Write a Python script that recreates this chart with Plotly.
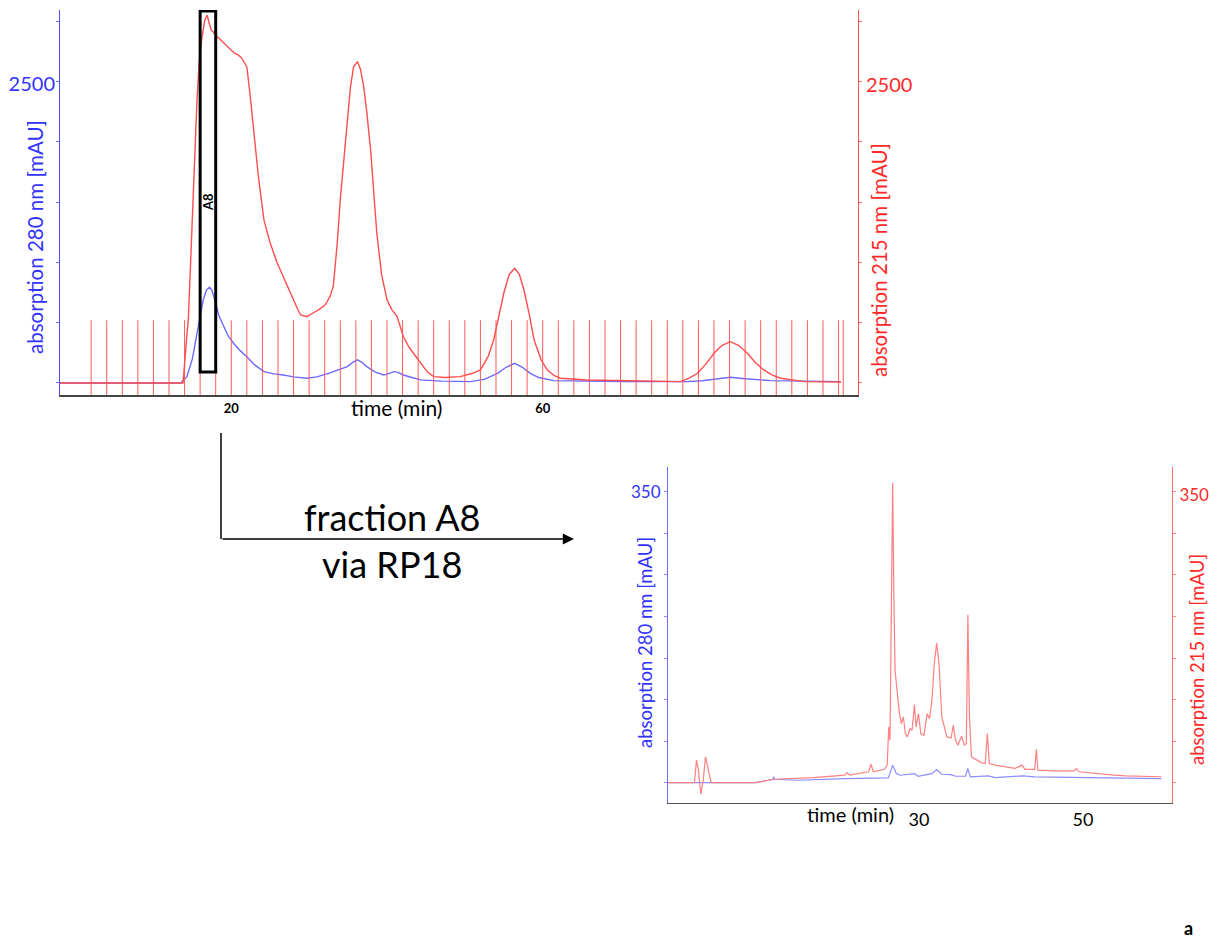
import plotly.graph_objects as go

# ---------------- data: top chart (fractionation) ----------------
top_t_215 = [-2.0, 13.8, 14.5, 14.9, 15.6, 15.9, 16.2, 16.6, 16.9, 17.1, 17.4, 17.7, 18.0, 18.4, 19.0,
             19.4, 20.0, 20.5, 20.9, 21.4, 22.0, 22.4, 22.9, 23.5, 24.2, 25.0, 25.9, 26.8, 27.6, 28.4,
             28.9, 29.7, 30.5, 31.3, 32.1, 32.7, 33.1, 33.6, 34.0, 34.5, 34.9, 35.3, 35.7, 36.2, 36.6,
             37.0, 37.4, 37.9, 38.3, 38.7, 39.3, 40.0, 40.6, 41.3, 42.1, 42.8, 43.4, 44.3, 45.2, 46.0,
             47.5, 49.4, 51.0, 52.0, 53.0, 53.7, 54.4, 55.0, 55.7, 56.4, 57.0, 57.6, 58.3, 58.9, 59.8,
             60.6, 61.5, 62.3, 65.7, 70.0, 77.7, 78.8, 79.9, 81.0, 82.0, 83.0, 84.1, 85.2, 86.3, 87.3,
             88.4, 89.5, 90.6, 93.6, 98.3]
top_a_215 = [0, 0, 550, 1240, 2350, 2680, 2850, 3010, 3050, 3000, 2930, 2910, 2880, 2860, 2820,
             2800, 2760, 2730, 2720, 2690, 2620, 2400, 2070, 1700, 1350, 1160, 995, 860, 746, 630,
             564, 550, 580, 610, 650, 720, 800, 1150, 1520, 1900, 2210, 2450, 2620, 2665, 2600,
             2460, 2250, 1930, 1580, 1240, 900, 690, 610, 550, 385, 300, 246, 163, 90, 52,
             45, 52, 80, 108, 220, 356, 560, 744, 900, 951, 900, 771, 560, 356, 190,
             108, 60, 39, 25, 18, 11, 40, 80, 160, 246, 310, 342, 310, 246, 170,
             108, 65, 39, 11, 8]

top_t_280 = [-2.0, 13.5, 14.3, 15.0, 15.6, 16.4, 16.8, 17.2, 17.5, 17.9, 18.4, 19.0, 19.6, 20.3, 21.1,
             22.0, 23.0, 24.2, 25.5, 26.7, 28.0, 29.7, 31.0, 32.5, 33.6, 34.9, 35.6, 36.2, 36.8, 37.4,
             38.5, 39.6, 40.3, 40.9, 41.5, 42.1, 43.2, 44.3, 47.0, 50.7, 52.5, 53.5, 54.2, 55.3, 56.4,
             57.4, 58.4, 59.5, 61.4, 70.0, 78.6, 80.5, 82.3, 84.1, 86.0, 89.3, 98.3]
top_a_280 = [0, 0, 52, 200, 412, 688, 770, 793, 770, 688, 560, 467, 390, 329, 270,
             218, 150, 94, 75, 66, 50, 39, 50, 80, 108, 135, 170, 191, 170, 135,
             90, 66, 80, 94, 85, 66, 45, 25, 15, 11, 30, 60, 80, 130, 163,
             130, 80, 45, 19, 12, 11, 18, 35, 47, 35, 19, 11]

fraction_marks = [2, 4, 6, 8, 10, 12, 14, 16, 18, 20, 22, 24, 26, 28, 30, 32, 34, 36, 38, 40,
                  42, 44, 46, 48, 50, 52, 54, 56, 58, 60, 62, 64, 66, 68, 70, 72, 74, 76, 78, 80,
                  82, 84, 86, 88, 90, 92, 94, 96, 98, 98.6]
fraction_top = 520
fraction_bottom = -100
selected_fraction = ("A8", 16, 18)

top_y_ticks = [0, 500, 1000, 1500, 2000, 2500, 3000]
top_y_labels = ["", "", "", "", "", "2500", ""]
top_x_ticks = [20, 60]
top_x_labels = ["20", "60"]

# ---------------- data: bottom chart (RP18 of fraction A8) ----------------
bot_t_215 = [-0.61, 2.62, 2.86, 3.10, 3.39, 3.68, 3.97, 4.31, 4.65, 10.10, 12.27, 17.10, 20.96, 21.20,
             21.54, 23.85, 24.14, 24.43, 25.78, 26.12, 26.31, 26.46, 26.65, 26.79, 26.94, 27.08, 27.32,
             27.61, 27.85, 28.09, 28.34, 28.58, 28.91, 29.15, 29.44, 29.64, 29.93, 30.22, 30.60, 30.99,
             31.28, 31.57, 31.86, 32.15, 32.44, 32.78, 33.40, 33.93, 34.17, 34.46, 34.75, 35.19, 35.53,
             35.77, 35.96, 36.15, 36.39, 36.88, 37.60, 38.08, 38.33, 38.57, 39.29, 41.70, 42.57, 42.91,
             44.11, 44.31, 44.50, 46.53, 48.94, 49.18, 49.52, 53.76, 55.21, 59.55]
bot_a_215 = [0, 0, 27, 15, -14, 3, 31, 15, 0, 0, 4, 6, 9, 12,
             9, 13, 22, 13, 16, 21, 67, 51, 200, 361, 220, 135, 111,
             83, 71, 79, 59, 55, 65, 63, 94, 67, 83, 59, 57, 83,
             77, 99, 143, 168, 143, 79, 55, 54, 69, 51, 45, 56, 45,
             47, 202, 79, 31, 28, 24, 23, 59, 23, 21, 17, 21, 16,
             16, 40, 15, 14, 14, 17, 13, 9, 8, 7]

bot_t_280 = [-0.61, 10.10, 12.17, 12.27, 12.40, 15.17, 20.96, 26.26, 26.79, 27.23, 27.71, 29.44, 29.88,
             31.57, 32.15, 32.78, 33.84, 34.46, 35.67, 35.96, 36.25, 38.47, 39.29, 42.67, 44.11, 48.94,
             53.76, 59.55]
bot_a_280 = [0, 0, 3.6, 7, 4, 2.8, 4.8, 5.6, 21, 10.8, 8.8, 10.8, 7.6,
             10.8, 15.7, 10, 9.6, 7.6, 7.6, 16.9, 6.8, 8, 6, 8, 6.8, 6,
             5.6, 4.8]

bot_y_ticks = [0, 50, 100, 150, 200, 250, 300, 350]
bot_y_labels = ["", "", "", "", "", "", "", "350"]
bot_x_ticks = [30, 50]
bot_x_labels = ["30", "50"]

# ---------------- figure ----------------
W, H = 1219, 939
FONT = "Lato"
BLUE = "#3333ff"
RED = "#ff2a2a"


def px(x):
    return x / W


def py(y):
    return 1 - y / H


fig = go.Figure()

# fraction collector marks
fx, fy = [], []
for m in fraction_marks:
    fx += [m, m, None]
    fy += [fraction_bottom, fraction_top, None]
fig.add_trace(go.Scatter(x=fx, y=fy, mode="lines", line=dict(color="#ff5a5a", width=1),
                         xaxis="x", yaxis="y2", hoverinfo="skip", showlegend=False))

fig.add_trace(go.Scatter(x=top_t_280, y=top_a_280, mode="lines", line=dict(color="#6a6aff", width=1.4),
                         xaxis="x", yaxis="y", showlegend=False, name="280 nm"))
fig.add_trace(go.Scatter(x=top_t_215, y=top_a_215, mode="lines", line=dict(color="#ff4d4d", width=1.4),
                         xaxis="x", yaxis="y2", showlegend=False, name="215 nm"))

fig.add_trace(go.Scatter(x=bot_t_280, y=bot_a_280, mode="lines", line=dict(color="#8c8cff", width=1.2),
                         xaxis="x2", yaxis="y3", showlegend=False, name="280 nm"))
fig.add_trace(go.Scatter(x=bot_t_215, y=bot_a_215, mode="lines", line=dict(color="#ff8080", width=1.2),
                         xaxis="x2", yaxis="y4", showlegend=False, name="215 nm"))

top_xdom = [px(60), px(858)]
top_ydom = [py(395), py(10)]
bot_xdom = [px(668), px(1172)]
bot_ydom = [py(803), py(467)]

fig.update_layout(
    width=W, height=H, margin=dict(l=0, r=0, t=0, b=0), autosize=False,
    paper_bgcolor="white", plot_bgcolor="white", showlegend=False,
    font=dict(family=FONT),
    xaxis=dict(domain=top_xdom, anchor="y", range=[-2.0, 100.5], showgrid=False, zeroline=False,
               showline=True, linecolor="#444", linewidth=2, ticks="",
               tickvals=top_x_ticks, ticktext=top_x_labels,
               tickfont=dict(family=FONT, size=13, color="black", weight="bold")),
    yaxis=dict(domain=top_ydom, anchor="x", range=[-100, 3093], showgrid=False, zeroline=False,
               showline=True, linecolor="#4d4dff", linewidth=1, ticks="outside", ticklen=3,
               tickcolor="#6a6aff", tickvals=top_y_ticks, ticktext=top_y_labels,
               ticklabelshift=2, ticklabelstandoff=-3,
               tickfont=dict(family=FONT, size=20, color=BLUE)),
    yaxis2=dict(overlaying="y", side="right", anchor="x", range=[-100, 3093], showgrid=False,
                zeroline=False, showline=True, linecolor="#ff4d4d", linewidth=1, ticks="outside",
                ticklen=3, tickcolor="#ff6a6a", tickvals=top_y_ticks, ticktext=top_y_labels,
                ticklabelshift=3,
                tickfont=dict(family=FONT, size=20, color=RED)),
    xaxis2=dict(domain=bot_xdom, anchor="y3", range=[-0.61, 60.85], showgrid=False, zeroline=False,
                showline=True, linecolor="#555", linewidth=1, ticks="",
                tickvals=bot_x_ticks, ticktext=bot_x_labels,
                tickfont=dict(family=FONT, size=18, color="black")),
    yaxis3=dict(domain=bot_ydom, anchor="x2", range=[-24.6, 380], showgrid=False, zeroline=False,
                showline=True, linecolor="#6a6aff", linewidth=1, ticks="outside", ticklen=3,
                tickcolor="#8c8cff", tickvals=bot_y_ticks, ticktext=bot_y_labels,
                tickfont=dict(family=FONT, size=17, color=BLUE)),
    yaxis4=dict(overlaying="y3", side="right", anchor="x2", range=[-24.6, 380], showgrid=False,
                zeroline=False, showline=True, linecolor="#ff6a6a", linewidth=1, ticks="outside",
                ticklen=3, tickcolor="#ff8c8c", tickvals=bot_y_ticks, ticktext=bot_y_labels,
                ticklabelshift=3,
                tickfont=dict(family=FONT, size=17, color=RED)),
)

# selected fraction box
name, f0, f1 = selected_fraction
fig.add_shape(type="rect", xref="x", yref="y2", x0=f0, x1=f1, y0=90, y1=3085,
              line=dict(color="black", width=3), fillcolor="rgba(0,0,0,0)")
fig.add_annotation(x=(f0 + f1) / 2, y=1500, xref="x", yref="y2", text=name, showarrow=False,
                   textangle=-90, font=dict(family=FONT, size=13, color="black", weight="bold"))

# axis titles and labels
ann = [
    dict(x=px(35), y=py(237), text="absorption 280 nm [mAU]", textangle=-90, size=20.5, color=BLUE),
    dict(x=px(879), y=py(260), text="absorption 215 nm [mAU]", textangle=-90, size=20.5, color=RED),
    dict(x=px(396), y=py(407), text="time (min)", textangle=0, size=21, color="black"),
    dict(x=px(645), y=py(643), text="absorption 280 nm [mAU]", textangle=-90, size=18.5, color=BLUE),
    dict(x=px(1197), y=py(660), text="absorption 215 nm [mAU]", textangle=-90, size=18.5, color=RED),
    dict(x=px(850), y=py(814), text="time (min)", textangle=0, size=20, color="black"),
    dict(x=px(392), y=py(517), text="fraction A8", textangle=0, size=36, color="black"),
    dict(x=px(392), y=py(564), text="via RP18", textangle=0, size=36, color="black"),
]
for a in ann:
    fig.add_annotation(x=a["x"], y=a["y"], xref="paper", yref="paper", text=a["text"],
                       textangle=a["textangle"], showarrow=False, xanchor="center", yanchor="middle",
                       font=dict(family=FONT, size=a["size"], color=a["color"]))

fig.add_annotation(x=px(1195), y=py(941), xref="paper", yref="paper", text="a", showarrow=False,
                   xanchor="right", yanchor="bottom",
                   font=dict(family=FONT, size=18, color="black", weight="bold"))

# arrow from fraction A8 to the RP18 chart
fig.add_shape(type="line", xref="paper", yref="paper", x0=px(221), x1=px(221), y0=py(433), y1=py(539),
              line=dict(color="black", width=1.5))
fig.add_annotation(x=px(574), y=py(539), xref="paper", yref="paper", ax=-353, ay=0, text="",
                   showarrow=True, arrowhead=2, arrowsize=1.6, arrowwidth=1.4, arrowcolor="black")

fig.write_html("out.html", config={"displayModeBar": False},
               post_script="document.body.style.margin='0';")
